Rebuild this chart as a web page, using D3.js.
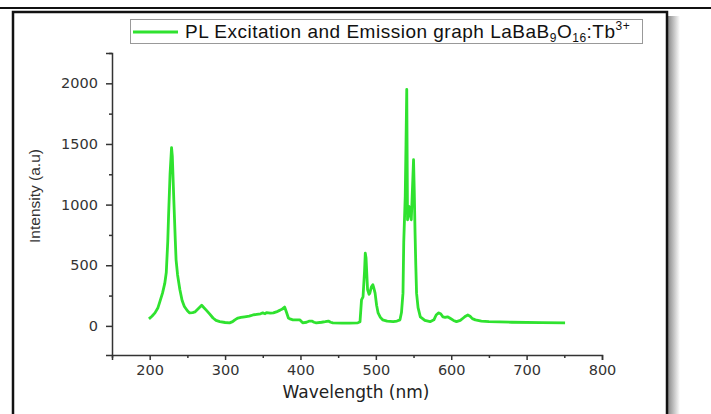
<!DOCTYPE html>
<html><head><meta charset="utf-8">
<script src="https://cdn.jsdelivr.net/npm/d3@7"></script>
<style>body{margin:0;background:#fff}svg{display:block}</style>
</head><body>
<script>
// ---- data ----
const wavelength = [199,203,207,211,213,217,220,222,224,225,227,229,230,232,234,235,237,240,243,246,250,253,257,260,265,269,272,275,280,284,288,293,300,306,310,313,317,321,326,332,337,342,347,350,353,355,360,364,368,373,376,379,381,384,387,390,395,399,403,408,412,415,418,421,428,433,437,440,443,455,465,476,479,481,483,485,486,487,489,491,492,494,496,497,499,501,503,506,509,515,523,528,532,534,536,537,539,540,541,542,543,544,545,547,549,550,551,552,553,554,556,559,565,572,577,580,583,586,589,592,595,598,603,607,612,616,619,622,625,628,632,640,650,680,720,751];
const intensity  = [58,80,107,150,190,270,350,440,700,900,1250,1470,1400,1040,700,545,420,300,210,160,125,107,110,115,145,170,150,130,95,65,45,35,28,25,35,50,65,70,75,80,90,95,100,107,100,110,105,107,115,130,140,155,120,65,55,50,50,50,25,30,40,40,30,25,30,35,40,30,25,22,22,25,35,215,240,450,600,560,300,260,270,320,340,320,270,170,107,70,50,40,35,40,50,110,270,690,1070,1500,1950,875,950,985,930,875,1200,1370,1100,770,500,270,150,75,45,35,50,90,107,100,75,70,75,65,45,35,45,65,80,90,80,60,50,40,35,30,27,25];
const xMajorTicks = [200,300,400,500,600,700,800];
const xMinorTicks = [150,250,350,450,550,650,750];
const yMajorTicks = [0,500,1000,1500,2000];
const yMinorTicks = [250,750,1250,1750,2250];
const xLabel = "Wavelength (nm)";
const yLabel = "Intensity (a.u)";

const W = 711, H = 414;
const svg = d3.select("body").append("svg").attr("width", W).attr("height", H);

// frame
const defs = svg.append("defs");
const g1 = defs.append("linearGradient").attr("id","shadow").attr("x1","0").attr("x2","1");
g1.append("stop").attr("offset","0").attr("stop-color","#8a8a8a");
g1.append("stop").attr("offset","1").attr("stop-color","#ffffff");
svg.append("rect").attr("x",668).attr("y",16).attr("width",12).attr("height",H-16).attr("fill","url(#shadow)");
svg.append("line").attr("x1",0).attr("x2",W).attr("y1",8).attr("y2",8).attr("stroke","#111").attr("stroke-width",2);
svg.append("path").attr("d","M13,414V12H667V414").attr("fill","none").attr("stroke","#111").attr("stroke-width",2.5);

// scales
const x = d3.scaleLinear().domain([150, 800]).range([112, 602]);
const y = d3.scaleLinear().domain([-240, 2250]).range([355, 53]);

const axisColor = "#333";
const fontTick = "'DejaVu Sans', sans-serif";

// x axis
const gx = svg.append("g").attr("transform", `translate(0,${y(-240)})`);
gx.call(d3.axisBottom(x).tickValues(xMajorTicks).tickSize(5).tickPadding(5).tickFormat(d3.format("d")));
const gxm = svg.append("g").attr("transform", `translate(0,${y(-240)})`);
gxm.call(d3.axisBottom(x).tickValues(xMinorTicks).tickSize(3).tickFormat(""));
gxm.select(".domain").remove();
// y axis
const gy = svg.append("g").attr("transform", `translate(${x(150)},0)`);
gy.call(d3.axisLeft(y).tickValues(yMajorTicks).tickSize(6).tickPadding(8).tickFormat(d3.format("d")));
const gym = svg.append("g").attr("transform", `translate(${x(150)},0)`);
gym.call(d3.axisLeft(y).tickValues(yMinorTicks).tickSize(3).tickFormat(""));
gym.select(".domain").remove();

svg.selectAll(".domain").attr("stroke", axisColor).attr("stroke-width", 1.5);
svg.selectAll(".tick line").attr("stroke", axisColor).attr("stroke-width", 1.5);
svg.selectAll(".tick text").attr("fill", "#333").style("font-family", fontTick).style("font-size", "14.5px");

// axis labels
svg.append("text").attr("x", 356).attr("y", 398).attr("text-anchor","middle")
  .style("font-family", fontTick).style("font-size","17px").attr("fill","#222").text(xLabel);
svg.append("text").attr("transform","translate(40,196) rotate(-90)").attr("text-anchor","middle")
  .style("font-family","'Liberation Sans', Arial, sans-serif").style("font-size","15.5px").attr("fill","#333").text(yLabel);

// data line
const pts = wavelength.map((w,i)=>[w, intensity[i]]);
svg.append("path").datum(pts)
  .attr("fill","none").attr("stroke","#2fe22f").attr("stroke-width",2.8).attr("stroke-linejoin","round")
  .attr("d", d3.line().x(d=>x(d[0])).y(d=>y(d[1])));

// legend
svg.append("rect").attr("x",130.5).attr("y",19.5).attr("width",512).attr("height",24)
  .attr("fill","#fff").attr("stroke","#999").attr("stroke-width",1);
svg.append("line").attr("x1",133).attr("x2",178).attr("y1",32).attr("y2",32).attr("stroke","#2fe22f").attr("stroke-width",2.8);
const lt = svg.append("text").attr("x",185).attr("y",38)
  .style("font-family","'Liberation Sans', Arial, sans-serif").style("font-size","19px")
  .style("letter-spacing","0.5px").attr("fill","#111");
lt.append("tspan").text("PL Excitation and Emission graph LaBaB");
lt.append("tspan").attr("dy",4).style("font-size","12px").text("9");
lt.append("tspan").attr("dy",-4).text("O");
lt.append("tspan").attr("dy",4).style("font-size","12px").text("16");
lt.append("tspan").attr("dy",-4).text(":Tb");
lt.append("tspan").attr("dy",-8).style("font-size","12px").text("3+");
</script>
</body></html>
